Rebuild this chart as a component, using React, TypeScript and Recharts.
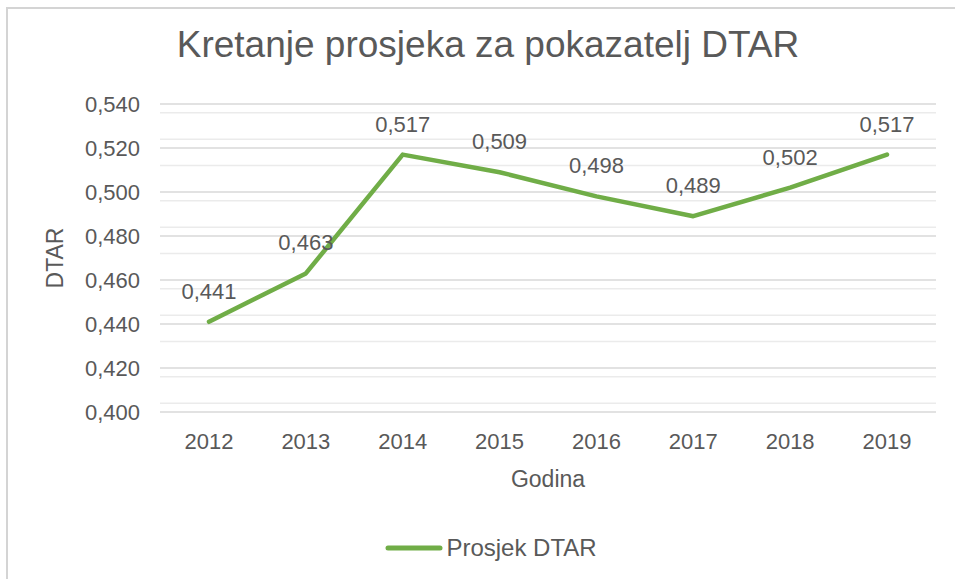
import { LineChart, Line, XAxis, YAxis, CartesianGrid, Legend, LabelList } from 'recharts';

// podaci
const godine = ['2012', '2013', '2014', '2015', '2016', '2017', '2018', '2019'];
const prosjekDtar = [0.441, 0.463, 0.517, 0.509, 0.498, 0.489, 0.502, 0.517];
const yTicks = [0.4, 0.42, 0.44, 0.46, 0.48, 0.5, 0.52, 0.54];
const minorLines = [
  0.404, 0.408, 0.412, 0.416, 0.424, 0.428, 0.432, 0.436,
  0.444, 0.448, 0.452, 0.456, 0.464, 0.468, 0.472, 0.476,
  0.484, 0.488, 0.492, 0.496, 0.504, 0.508, 0.512, 0.516,
  0.524, 0.528, 0.532, 0.536,
];

const data = godine.map((godina, i) => ({ godina, dtar: prosjekDtar[i] }));

const FONT = '"Liberation Sans", Arial, sans-serif';
const TEXT = '#595959';
const GREEN = '#70AD47';
const fmt = (v: number) => v.toFixed(3).replace('.', ',');

function LegendBox({ payload }: any) {
  return (
    <div style={{ height: 30, display: 'flex', alignItems: 'center', justifyContent: 'center', paddingLeft: 38 }}>
      {(payload || []).map((p: any) => (
        <div key={p.value} style={{ display: 'flex', alignItems: 'center', gap: 3 }}>
          <svg width={58} height={8}>
            <line x1={3} y1={4} x2={55} y2={4} stroke={GREEN} strokeWidth={5} strokeLinecap="round" />
          </svg>
          <span style={{ fontFamily: FONT, fontSize: 24, color: TEXT }}>{p.value}</span>
        </div>
      ))}
    </div>
  );
}

export default function App() {
  return (
    <>
      <style>{'html,body{overflow:hidden}'}</style>
      <div
        style={{
          position: 'absolute', left: 6, top: 7, width: 947, height: 570, boxSizing: 'content-box',
          borderLeft: '2px solid #d4d4d4', borderTop: '2px solid #d4d4d4', background: '#fff', overflow: 'hidden',
        }}
      >
        <div
          style={{
            position: 'absolute', top: 17, left: 0, width: 960, textAlign: 'center',
            fontFamily: FONT, fontSize: 37, lineHeight: '37px', color: TEXT,
          }}
        >
          Kretanje prosjeka za pokazatelj DTAR
        </div>
        <LineChart width={947} height={570} data={data} margin={{ top: 95, right: 19, left: 0, bottom: 16 }}>
          <CartesianGrid horizontalValues={minorLines} vertical={false} stroke="#ebebeb" strokeWidth={1.5} />
          <CartesianGrid horizontalValues={yTicks} vertical={false} stroke="#d9d9d9" strokeWidth={1.5} />
          <XAxis
            dataKey="godina"
            axisLine={false}
            tickLine={false}
            tickSize={0}
            tickMargin={21}
            height={121}
            padding={{ left: 49, right: 49 }}
            tick={{ fontFamily: FONT, fontSize: 22, fill: TEXT }}
            label={{
              content: (p: any) => {
                const vb = p.viewBox;
                return (
                  <text x={vb.x + vb.width / 2} y={vb.y + 75} textAnchor="middle" fontFamily={FONT} fontSize={23} fill={TEXT}>
                    Godina
                  </text>
                );
              },
            }}
          />
          <YAxis
            domain={[0.4, 0.54]}
            ticks={yTicks}
            tickFormatter={fmt}
            axisLine={false}
            tickLine={false}
            tickSize={0}
            tickMargin={20}
            width={152}
            tick={{ fontFamily: FONT, fontSize: 22, fill: TEXT }}
            label={{
              content: (p: any) => {
                const vb = p.viewBox;
                const cx = vb.x + 55;
                const cy = vb.y + vb.height / 2;
                return (
                  <text x={cx} y={cy} transform={`rotate(-90 ${cx} ${cy})`} textAnchor="middle" fontFamily={FONT} fontSize={23} fill={TEXT}>
                    DTAR
                  </text>
                );
              },
            }}
          />
          <Legend verticalAlign="bottom" content={<LegendBox />} />
          <Line
            type="linear"
            dataKey="dtar"
            name="Prosjek DTAR"
            stroke={GREEN}
            strokeWidth={4.5}
            strokeLinecap="round"
            strokeLinejoin="round"
            dot={false}
            activeDot={false}
            isAnimationActive={false}
          >
            <LabelList dataKey="dtar" position="top" offset={23} formatter={(v: any) => fmt(Number(v))} style={{ fontFamily: FONT, fontSize: 22, fill: TEXT }} />
          </Line>
        </LineChart>
      </div>
    </>
  );
}
